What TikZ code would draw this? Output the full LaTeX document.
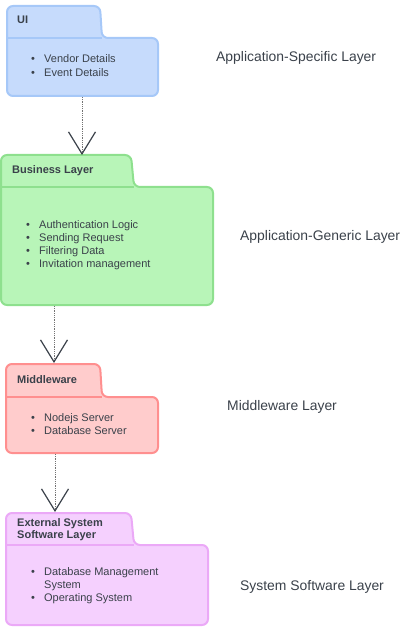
\documentclass[tikz,border=0pt]{standalone}
\usepackage{fontspec}
\setmainfont{Liberation Sans}
\usetikzlibrary{arrows.meta}

\definecolor{txt}{HTML}{3A414A}
\definecolor{uifill}{HTML}{C6DBFC}
\definecolor{uidraw}{HTML}{A6C8F8}
\definecolor{blfill}{HTML}{B8F5B8}
\definecolor{bldraw}{HTML}{8EE08E}
\definecolor{mwfill}{HTML}{FFCCCC}
\definecolor{mwdraw}{HTML}{FF8F8F}
\definecolor{ssfill}{HTML}{F5D0FE}
\definecolor{ssdraw}{HTML}{EBA9F7}

\newcommand{\bul}{\makebox[13pt][l]{\textbullet}}

\tikzset{
  pkg/.style={line width=2pt, rounded corners=6pt},
  sep/.style={line width=1.5pt},
  title/.style={anchor=base west, inner sep=0pt, text=txt, font=\bfseries\fontsize{11}{12.5}\selectfont},
  items/.style={anchor=base west, inner sep=0pt, text=txt, font=\fontsize{11}{13.2}\selectfont},
  layer/.style={anchor=base west, inner sep=0pt, text=txt, font=\fontsize{13.9}{16}\selectfont},
  dep/.style={densely dotted, line width=0.8pt, draw=black!55,
    -{Straight Barb[length=22pt, width=27pt, line width=1.2pt, color=txt]}}
}

\begin{document}
\begin{tikzpicture}[x=1pt, y=-1pt]
  \useasboundingbox (0,0) rectangle (403,628);

  % UI package
  \draw[pkg, fill=uifill, draw=uidraw] (7,6) -- (100,6) -- (102,38) -- (158,38) -- (158,96) -- (7,96) -- cycle;
  \draw[sep, uidraw] (7,38) -- (102,38);
  \node[title] (uiT) at (17,24) {UI};
  \node[items] (uiL) at (31,63) {\begin{tabular}[t]{@{}l@{}}\bul Vendor Details\\ \bul Event Details\end{tabular}};

  % Business layer package
  \draw[pkg, fill=blfill, draw=bldraw] (1,155) -- (131,155) -- (134,187) -- (213,187) -- (213,305) -- (1,305) -- cycle;
  \draw[sep, bldraw] (1,187) -- (134,187);
  \node[title] (blT) at (12,174) {Business Layer};
  \node[items] (blL) at (26,228) {\begin{tabular}[t]{@{}l@{}}\bul Authentication Logic\\ \bul Sending Request\\ \bul Filtering Data\\ \bul Invitation management\end{tabular}};

  % Middleware package
  \draw[pkg, fill=mwfill, draw=mwdraw] (6,364) -- (100,364) -- (102,397) -- (158,397) -- (158,453) -- (6,453) -- cycle;
  \draw[sep, mwdraw] (6,397) -- (102,397);
  \node[title] (mwT) at (17,383) {Middleware};
  \node[items] (mwL) at (31,421) {\begin{tabular}[t]{@{}l@{}}\bul Nodejs Server\\ \bul Database Server\end{tabular}};

  % External system software package
  \draw[pkg, fill=ssfill, draw=ssdraw] (6,513) -- (131,513) -- (134,545) -- (208,545) -- (208,625) -- (6,625) -- cycle;
  \draw[sep, ssdraw] (6,545) -- (134,545);
  \node[title] (ssT) at (17,526) {\begin{tabular}[t]{@{}l@{}}External System\\ Software Layer\end{tabular}};
  \node[items] (ssL) at (31,575) {\begin{tabular}[t]{@{}l@{}}\bul Database Management\\ \hspace*{13pt}System\\ \bul Operating System\end{tabular}};

  % Layer names
  \node[layer] (asl) at (216,61.5) {Application-Specific Layer};
  \node[layer] (agl) at (240,240.5) {Application-Generic Layer};
  \node[layer] (mwl) at (227,410.5) {Middleware Layer};
  \node[layer] (ssl) at (240,590.5) {System Software Layer};

  % Dependencies
  \coordinate (uiS) at (82,97);
  \coordinate (blN) at (82,155);
  \coordinate (blS) at (54,306);
  \coordinate (mwN) at (54,363);
  \coordinate (mwS) at (55,454);
  \coordinate (ssN) at (55,512);
  \draw[dep] (uiS) -- (blN);
  \draw[dep] (blS) -- (mwN);
  \draw[dep] (mwS) -- (ssN);
\end{tikzpicture}
\end{document}
